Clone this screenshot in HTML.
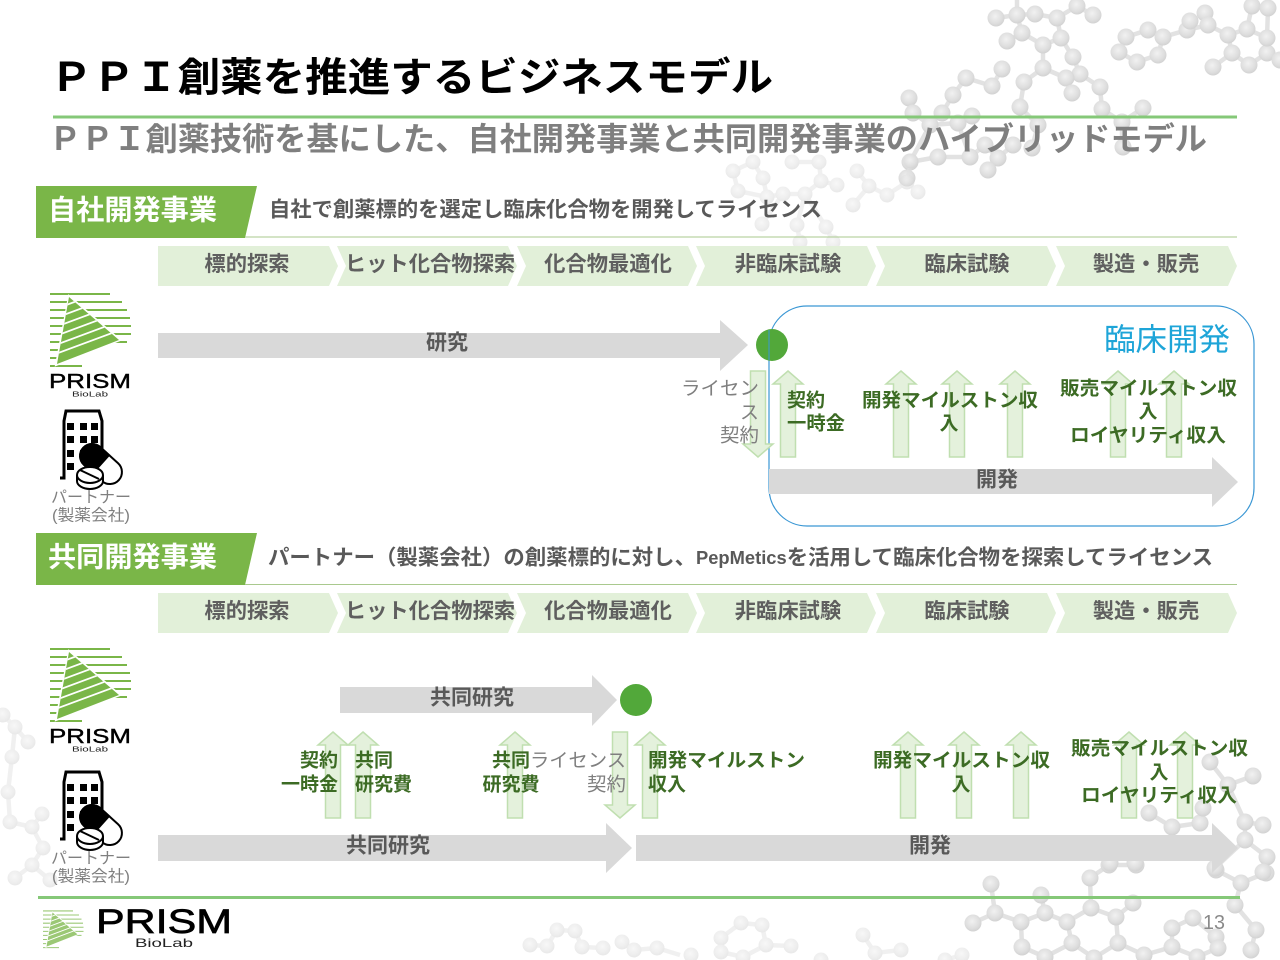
<!DOCTYPE html>
<html lang="ja"><head><meta charset="utf-8"><title>PPI創薬を推進するビジネスモデル</title>
<style>
html,body{margin:0;padding:0;background:#fff}
svg{display:block}
text{font-family:"Liberation Sans","Noto Sans CJK JP",sans-serif;dominant-baseline:central;transform:translateY(1px)}
.b{font-weight:700}
.g{font-weight:700;font-size:19px;fill:#3c6b24}
.l{font-size:19px;fill:#7f7f7f}
.a{font-weight:700;font-size:21px;fill:#595959;text-anchor:middle}
.c{font-weight:700;font-size:21.3px;fill:#5f5f5f;text-anchor:middle}
.m circle{r:8.5px;fill:url(#atom)}
.m path{fill:none;stroke:#e2e2e2;stroke-width:4.5}
.f{opacity:.5}
.f circle{r:7.5px}
.ga{fill:#d9d9d9}
.ua{fill:#e4f1dc;stroke:#c0dfb0;stroke-width:1.5}
.ch{fill:#e2f0d9}
.ln{fill:none;stroke:#85c878;stroke-width:3}
.tn{fill:none;stroke:#a9c98e;stroke-width:1}
</style></head><body>
<svg width="1280" height="960" viewBox="0 0 1280 960" xmlns="http://www.w3.org/2000/svg">
<defs>
<radialGradient id="atom" cx="45%" cy="40%" r="60%"><stop offset="0" stop-color="#f1f1f1"/><stop offset=".7" stop-color="#dedede"/><stop offset="1" stop-color="#d2d2d2"/></radialGradient>
<clipPath id="tri"><polygon points="69,297 119,340 57,364"/></clipPath>
<g id="mark">
<path d="M50 294H110M50 302H122M50 310H127M50 318H130M50 326H131M50 334H131M50 342H127M50 350H62M50 358H60M50 366H82" stroke="#7ab648" stroke-width="2" fill="none"/>
<polygon points="69,296 120,340 56,365" fill="#fff" stroke="#fff" stroke-width="2"/>
<polygon points="69,297 119,340 57,364" fill="#7ab648"/>
<path clip-path="url(#tri)" d="M50 356L130 326.4M50 347L130 317.4M50 338L130 308.4M50 329L130 299.4M50 320L130 290.4M50 311L130 281.4" stroke="#fff" stroke-width="1.8" fill="none"/>
</g>
<g id="bld">
<path d="M62 478H66V421L68 411H101L104 421V462" fill="#fff" stroke="#000" stroke-width="3"/>
<path d="M69 423h7v7h-7zM82 423h7v7h-7zM93 423h7v7h-7zM69 436h7v7h-7zM82 436h7v7h-7zM93 436h7v7h-7zM69 450h7v7h-7zM82 450h7v7h-7zM69 463h7v7h-7z" fill="#000"/>
<g transform="rotate(42 103 464)">
<rect x="79" y="452" width="48" height="24" rx="12" fill="#fff" stroke="#000" stroke-width="2"/>
<path d="M103 452H91A12 12 0 0 0 91 476H103Z" fill="#000" stroke="#000" stroke-width="2"/>
</g>
<path d="M79 475v6a13 8 0 0 0 26 0v-6" fill="#fff" stroke="#000" stroke-width="2"/>
<ellipse cx="92" cy="475" rx="13" ry="8" fill="#fff" stroke="#000" stroke-width="2"/>
<path d="M82 470L101 479" stroke="#000" stroke-width="2" fill="none"/>
</g>
<polygon id="up" class="ua" points="0,0 15,13 7.5,13 7.5,86 -7.5,86 -7.5,13 -15,13"/>
<polygon id="dn" class="ua" points="-7.5,0 7.5,0 7.5,73 15,73 0,86 -15,73 -7.5,73"/>
<g id="chev" class="ch">
<polygon points="158,0 329,0 338,20 329,40 158,40"/>
<polygon points="337,0 508,0 517,20 508,40 337,40 346,20"/>
<polygon points="517,0 688,0 697,20 688,40 517,40 526,20"/>
<polygon points="696,0 867,0 876,20 867,40 696,40 705,20"/>
<polygon points="876,0 1047,0 1056,20 1047,40 876,40 885,20"/>
<polygon points="1056,0 1228,0 1237,20 1228,40 1056,40 1065,20"/>
</g>
</defs>

<!-- molecules -->
<g class="m">
<path d="M996 18L1017 15L1035 14L1057 18L1077 6L1093 15M1017 15L1022 33L1043 45L1061 38L1057 18M1022 33L1007 41M1043 45V68L1024 82L1020 107L1038 125L1032 148M1043 68L1066 78L1072 93M1061 38L1073 57L1080 74L1100 87L1102 109L1122 122L1143 108M1122 122V147M1017 15V0"/>
<path d="M1126 37L1148 30L1163 37L1158 55L1137 62L1119 52L1126 37M1163 37L1187 30L1190 21M1187 30L1208 25L1205 13M1208 25L1228 35L1232 53L1213 67M1232 53L1249 65L1267 53L1267 38L1247 29L1228 35M1247 29L1252 6L1268 8L1267 38M1267 53L1280 60"/>
<path d="M1002 69L992 86L966 78L953 95L942 113L930 125L913 113L909 98M930 125L958 123L972 116M930 125L910 162L907 178M958 123L970 157L985 145L998 158L1013 145M998 158L988 170M938 157L970 157M910 162L938 157"/>
<circle cx="996" cy="18"/><circle cx="1017" cy="15"/><circle cx="1035" cy="14"/><circle cx="1057" cy="18"/><circle cx="1077" cy="6"/><circle cx="1093" cy="15"/><circle cx="1022" cy="33"/><circle cx="1007" cy="41"/><circle cx="1043" cy="45"/><circle cx="1061" cy="38"/><circle cx="1073" cy="57"/><circle cx="1080" cy="74"/><circle cx="1043" cy="68"/><circle cx="1066" cy="78"/><circle cx="1072" cy="93"/><circle cx="1024" cy="82"/><circle cx="1020" cy="107"/><circle cx="1038" cy="125"/><circle cx="1032" cy="148"/><circle cx="1100" cy="87"/><circle cx="1102" cy="109"/><circle cx="1122" cy="122"/><circle cx="1143" cy="108"/><circle cx="1123" cy="147"/>
<circle cx="1126" cy="37"/><circle cx="1148" cy="30"/><circle cx="1163" cy="37"/><circle cx="1158" cy="55"/><circle cx="1137" cy="62"/><circle cx="1119" cy="52"/><circle cx="1187" cy="30"/><circle cx="1190" cy="21"/><circle cx="1205" cy="13"/><circle cx="1208" cy="25"/><circle cx="1228" cy="35"/><circle cx="1232" cy="53"/><circle cx="1213" cy="67"/><circle cx="1249" cy="65"/><circle cx="1267" cy="53"/><circle cx="1247" cy="29"/><circle cx="1267" cy="38"/><circle cx="1252" cy="6"/><circle cx="1268" cy="8"/><circle cx="1280" cy="60"/>
<circle cx="1002" cy="69"/><circle cx="992" cy="86"/><circle cx="966" cy="78"/><circle cx="953" cy="95"/><circle cx="942" cy="113"/><circle cx="909" cy="98"/><circle cx="913" cy="113"/><circle cx="930" cy="125"/><circle cx="958" cy="123"/><circle cx="972" cy="116"/><circle cx="938" cy="157"/><circle cx="910" cy="162"/><circle cx="970" cy="157"/><circle cx="985" cy="145"/><circle cx="998" cy="158"/><circle cx="1013" cy="145"/><circle cx="988" cy="170"/><circle cx="907" cy="178"/>
</g>
<g class="m f">
<path d="M733 171L753 162L763 178L767 197L783 194L805 194L821 181L837 185M733 171L738 191L767 197M821 181L819 162L792 162M805 194L797 225M783 194L762 224M805 194L826 227M797 225L800 242M826 227L833 242M857 171L869 186L853 205M869 186L887 195L907 182L918 192M907 182L911 161"/>
<circle cx="733" cy="171"/><circle cx="753" cy="162"/><circle cx="763" cy="178"/><circle cx="738" cy="191"/><circle cx="767" cy="197"/><circle cx="783" cy="194"/><circle cx="805" cy="194"/><circle cx="821" cy="181"/><circle cx="837" cy="185"/><circle cx="819" cy="162"/><circle cx="792" cy="162"/><circle cx="762" cy="224"/><circle cx="797" cy="225"/><circle cx="826" cy="227"/><circle cx="857" cy="171"/><circle cx="869" cy="186"/><circle cx="853" cy="205"/><circle cx="887" cy="195"/><circle cx="907" cy="182"/><circle cx="918" cy="192"/><circle cx="911" cy="161"/><circle cx="800" cy="242"/><circle cx="833" cy="242"/>
<path d="M530 945L547 946L557 930L575 931L582 947L603 948M622 942L634 950L657 948L680 955M721 938L741 923L762 925L766 945L791 946M766 945L743 957L721 952L721 938M863 935L875 953L901 950M945 960L962 955"/>
<circle cx="530" cy="945"/><circle cx="547" cy="946"/><circle cx="557" cy="930"/><circle cx="575" cy="931"/><circle cx="582" cy="947"/><circle cx="603" cy="948"/><circle cx="622" cy="942"/><circle cx="634" cy="950"/><circle cx="657" cy="948"/><circle cx="691" cy="955"/><circle cx="721" cy="938"/><circle cx="741" cy="923"/><circle cx="762" cy="925"/><circle cx="766" cy="945"/><circle cx="791" cy="946"/><circle cx="721" cy="952"/><circle cx="743" cy="957"/><circle cx="863" cy="935"/><circle cx="875" cy="953"/><circle cx="901" cy="950"/><circle cx="962" cy="955"/><circle cx="945" cy="960"/><circle cx="821" cy="960"/>
</g>
<g class="m">
<path d="M991 884L995 913L973 923M995 913L1021 922L1045 913L1041 895M1045 913L1067 922L1091 908L1090 878L1109 865L1136 865M1091 908L1116 917L1133 903M1116 917L1118 943L1094 958L1072 943L1067 922M1021 922L1022 947L1045 957L1072 943M1118 943L1144 955L1172 947L1172 928L1193 918L1216 937L1218 948L1197 957L1172 947M1216 870L1241 883L1235 905L1256 930L1251 950M1241 883L1266 873"/>
<circle cx="991" cy="884"/><circle cx="995" cy="913"/><circle cx="973" cy="923"/><circle cx="1021" cy="922"/><circle cx="1045" cy="913"/><circle cx="1041" cy="895"/><circle cx="1067" cy="922"/><circle cx="1091" cy="908"/><circle cx="1090" cy="878"/><circle cx="1109" cy="865"/><circle cx="1136" cy="865"/><circle cx="1133" cy="903"/><circle cx="1116" cy="917"/><circle cx="1118" cy="943"/><circle cx="1072" cy="943"/><circle cx="1022" cy="947"/><circle cx="1045" cy="957"/><circle cx="1094" cy="958"/><circle cx="1144" cy="955"/><circle cx="1172" cy="947"/><circle cx="1172" cy="928"/><circle cx="1193" cy="918"/><circle cx="1216" cy="937"/><circle cx="1218" cy="948"/><circle cx="1197" cy="957"/><circle cx="1241" cy="883"/><circle cx="1235" cy="905"/><circle cx="1256" cy="930"/><circle cx="1251" cy="950"/><circle cx="1266" cy="873"/><circle cx="1216" cy="870"/>
<path d="M1210 762L1228 785L1253 776M1228 785L1245 822L1263 825M1245 822V840L1267 857L1263 872M1245 840L1215 868M1149 813L1172 827L1200 823L1203 808"/>
<circle cx="1210" cy="762"/><circle cx="1253" cy="776"/><circle cx="1228" cy="785"/><circle cx="1245" cy="822"/><circle cx="1263" cy="825"/><circle cx="1245" cy="840"/><circle cx="1267" cy="857"/><circle cx="1263" cy="872"/><circle cx="1215" cy="868"/><circle cx="1200" cy="823"/><circle cx="1172" cy="827"/><circle cx="1149" cy="813"/><circle cx="1203" cy="808"/><circle cx="1135" cy="863"/><circle cx="1110" cy="863"/>
</g>
<g class="m f">
<path d="M3 715L15 727L28 742M15 727L12 757L8 792L10 822L32 827L42 814M32 827L43 848L32 865L15 878M32 865L50 880"/>
<circle cx="3" cy="715"/><circle cx="15" cy="727"/><circle cx="28" cy="742"/><circle cx="12" cy="757"/><circle cx="8" cy="792"/><circle cx="10" cy="822"/><circle cx="32" cy="827"/><circle cx="42" cy="814"/><circle cx="43" cy="848"/><circle cx="32" cy="865"/><circle cx="15" cy="878"/><circle cx="50" cy="880"/>
</g>

<!-- title -->
<text class="b" x="50" y="77" font-size="40" fill="#000" textLength="723" lengthAdjust="spacingAndGlyphs">ＰＰＩ創薬を推進するビジネスモデル</text>
<path class="ln" d="M53 117H1237"/>
<text class="b" x="49" y="138" font-size="32" fill="#7f7f7f" textLength="1158" lengthAdjust="spacingAndGlyphs">ＰＰＩ創薬技術を基にした、自社開発事業と共同開発事業のハイブリッドモデル</text>

<!-- section 1 -->
<polygon points="36,186 257,186 245,238 36,238" fill="#7ab648"/>
<path class="tn" d="M245 237H1237"/>
<text class="b" x="48" y="209" font-size="28" fill="#fff" textLength="169" lengthAdjust="spacingAndGlyphs">自社開発事業</text>
<text class="b" x="269" y="209" font-size="21" fill="#595959" textLength="553" lengthAdjust="spacingAndGlyphs">自社で創薬標的を選定し臨床化合物を開発してライセンス</text>
<use href="#chev" y="246"/>
<text class="c" x="247" y="263">標的探索</text><text class="c" x="430" y="263">ヒット化合物探索</text><text class="c" x="608" y="263">化合物最適化</text><text class="c" x="788" y="263">非臨床試験</text><text class="c" x="967" y="263">臨床試験</text><text class="c" x="1146" y="263">製造・販売</text>

<use href="#mark"/>
<text x="49" y="381" font-size="20" stroke="#000" stroke-width=".4" fill="#000" textLength="82" lengthAdjust="spacingAndGlyphs">PRISM</text>
<text x="72" y="394" font-size="7" fill="#222" textLength="36" lengthAdjust="spacingAndGlyphs">BioLab</text>
<use href="#bld" x="-2"/>
<text x="51" y="497" font-size="16" fill="#7f7f7f" textLength="80" lengthAdjust="spacingAndGlyphs">パートナー</text>
<text x="52" y="515" font-size="16" fill="#7f7f7f" textLength="78" lengthAdjust="spacingAndGlyphs">(製薬会社)</text>

<polygon class="ga" points="158,333 720,333 720,320 748,345 720,371 720,358 158,358"/>
<text class="a" x="447" y="342">研究</text>

<rect x="769" y="306" width="485" height="220" rx="38" fill="#fff" fill-opacity=".75" stroke="#3a97d4" stroke-width="1.2"/>
<text x="1104" y="339" font-size="31" fill="#1ea5d8" textLength="126" lengthAdjust="spacingAndGlyphs">臨床開発</text>
<ellipse cx="772" cy="345" rx="16" ry="16" fill="#52a83a"/>
<path d="M769 330V360" stroke="#3a97d4" stroke-width="1"/>
<use href="#dn" x="758" y="371"/>
<use href="#up" x="788" y="371"/><use href="#up" x="901" y="371"/><use href="#up" x="957" y="371"/><use href="#up" x="1015" y="371"/><use href="#up" x="1118" y="371"/><use href="#up" x="1174" y="371"/>
<polygon class="ga" points="769,469 1212,469 1212,457 1238,482 1212,507 1212,494 769,494"/>
<text class="a" x="997" y="479">開発</text>
<text class="l" x="681" y="388" textLength="78" lengthAdjust="spacingAndGlyphs">ライセン</text>
<text class="l" x="759" y="412" text-anchor="end">ス</text>
<text class="l" x="720" y="435" textLength="39" lengthAdjust="spacingAndGlyphs">契約</text>
<text class="g" x="787" y="400">契約</text>
<text class="g" x="787" y="423" textLength="58" lengthAdjust="spacingAndGlyphs">一時金</text>
<text class="g" x="862" y="400" textLength="176" lengthAdjust="spacingAndGlyphs">開発マイルストン収</text>
<text class="g" x="949" y="423" text-anchor="middle">入</text>
<text class="g" x="1060" y="388" textLength="177" lengthAdjust="spacingAndGlyphs">販売マイルストン収</text>
<text class="g" x="1148" y="411" text-anchor="middle">入</text>
<text class="g" x="1070" y="435" textLength="156" lengthAdjust="spacingAndGlyphs">ロイヤリティ収入</text>

<!-- section 2 -->
<polygon points="36,533 257,533 245,585 36,585" fill="#7ab648"/>
<path class="tn" d="M245 584.5H1237"/>
<text class="b" x="48" y="556" font-size="28" fill="#fff" textLength="169" lengthAdjust="spacingAndGlyphs">共同開発事業</text>
<text class="b" x="268" y="557" font-size="21" fill="#595959" textLength="945" lengthAdjust="spacingAndGlyphs">パートナー（製薬会社）の創薬標的に対し、<tspan font-size="18">PepMetics</tspan>を活用して臨床化合物を探索してライセンス</text>
<use href="#chev" y="593"/>
<text class="c" x="247" y="610">標的探索</text><text class="c" x="430" y="610">ヒット化合物探索</text><text class="c" x="608" y="610">化合物最適化</text><text class="c" x="788" y="610">非臨床試験</text><text class="c" x="967" y="610">臨床試験</text><text class="c" x="1146" y="610">製造・販売</text>

<use href="#mark" y="355"/>
<text x="49" y="736" font-size="20" stroke="#000" stroke-width=".4" fill="#000" textLength="82" lengthAdjust="spacingAndGlyphs">PRISM</text>
<text x="72" y="749" font-size="7" fill="#222" textLength="36" lengthAdjust="spacingAndGlyphs">BioLab</text>
<use href="#bld" x="-2" y="361"/>
<text x="51" y="858" font-size="16" fill="#7f7f7f" textLength="80" lengthAdjust="spacingAndGlyphs">パートナー</text>
<text x="52" y="876" font-size="16" fill="#7f7f7f" textLength="78" lengthAdjust="spacingAndGlyphs">(製薬会社)</text>

<polygon class="ga" points="340,687 592,687 592,675 617,700 592,726 592,713 340,713"/>
<text class="a" x="472" y="697">共同研究</text>
<circle cx="636" cy="700" r="16" fill="#52a83a"/>
<use href="#up" x="333" y="732"/><use href="#up" x="363" y="732"/><use href="#up" x="515" y="732"/><use href="#dn" x="620" y="732"/><use href="#up" x="650" y="732"/>
<use href="#up" x="908" y="732"/><use href="#up" x="964" y="732"/><use href="#up" x="1021" y="732"/><use href="#up" x="1129" y="732"/><use href="#up" x="1185" y="732"/>
<polygon class="ga" points="158,835 606,835 606,823 632,848 606,873 606,861 158,861"/>
<polygon class="ga" points="636,835 1212,835 1212,823 1238,848 1212,873 1212,861 636,861"/>
<text class="a" x="388" y="845">共同研究</text>
<text class="a" x="930" y="845">開発</text>
<text class="g" x="338" y="760" text-anchor="end">契約</text>
<text class="g" x="338" y="784" text-anchor="end">一時金</text>
<text class="g" x="355" y="760">共同</text>
<text class="g" x="355" y="784">研究費</text>
<text class="g" x="511" y="760" text-anchor="middle">共同</text>
<text class="g" x="511" y="784" text-anchor="middle">研究費</text>
<text class="l" x="530" y="760" textLength="96" lengthAdjust="spacingAndGlyphs">ライセンス</text>
<text class="l" x="587" y="784" textLength="39" lengthAdjust="spacingAndGlyphs">契約</text>
<text class="g" x="648" y="760" textLength="157" lengthAdjust="spacingAndGlyphs">開発マイルストン</text>
<text class="g" x="648" y="784">収入</text>
<text class="g" x="873" y="760" textLength="177" lengthAdjust="spacingAndGlyphs">開発マイルストン収</text>
<text class="g" x="961" y="784" text-anchor="middle">入</text>
<text class="g" x="1071" y="748" textLength="177" lengthAdjust="spacingAndGlyphs">販売マイルストン収</text>
<text class="g" x="1159" y="772" text-anchor="middle">入</text>
<text class="g" x="1081" y="795" textLength="156" lengthAdjust="spacingAndGlyphs">ロイヤリティ収入</text>

<!-- footer -->
<path class="ln" d="M38 897.5H1240"/>
<g transform="translate(18 761) scale(.5 .51)" opacity=".75"><use href="#mark"/></g>
<text x="96" y="921" font-size="34" stroke="#000" stroke-width=".7" fill="#000" textLength="136" lengthAdjust="spacingAndGlyphs">PRISM</text>
<text x="135" y="942" font-size="12" fill="#222" textLength="58" lengthAdjust="spacingAndGlyphs">BioLab</text>
<text x="1203" y="922" font-size="20" fill="#8a8a8a" textLength="22" lengthAdjust="spacingAndGlyphs">13</text>
</svg>
</body></html>
